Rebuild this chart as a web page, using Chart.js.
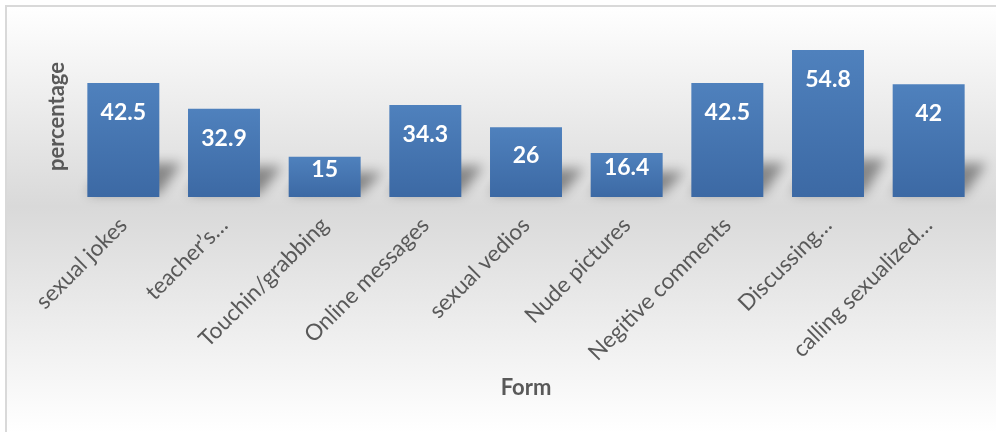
<!DOCTYPE html>
<html>
<head>
<meta charset="utf-8">
<script src="https://cdn.jsdelivr.net/npm/chart.js@4.4.0/dist/chart.umd.min.js"></script>
<style>
html,body{margin:0;padding:0;background:#fff;overflow:hidden;}
#wrap{position:absolute;left:5px;top:5px;width:989px;height:425px;border-left:2px solid #d9d9d9;border-top:2px solid #d9d9d9;
  background:linear-gradient(#ffffff 0%,#d9d9d9 47%,#ffffff 100%);}
canvas{display:block;}
</style>
</head>
<body>
<div id="wrap"><canvas id="chart" width="989" height="425"></canvas></div>
<script>
const forms = ['sexual jokes', 'teacher\u2019s\u2026', 'Touchin/grabbing', 'Online messages', 'sexual vedios',
  'Nude pictures', 'Negitive comments', 'Discussing\u2026', 'calling sexualized\u2026'];
const percentages = [42.5, 32.9, 15, 34.3, 26, 16.4, 42.5, 54.8, 42];

const GREY = '#595959';
const FONT = 'Lato';

// soft perspective shadow behind each bar
const barShadow = {
  id: 'barShadow',
  beforeDatasetsDraw(chart){
    const ctx = chart.ctx;
    chart.getDatasetMeta(0).data.forEach(bar => {
      const h = bar.base - bar.y;
      const sh = 20 + h * 0.12;
      const l = bar.x - bar.width / 2, r = bar.x + bar.width / 2;
      ctx.save();
      ctx.filter = 'blur(6px)';
      ctx.fillStyle = 'rgba(0,0,0,0.4)';
      ctx.beginPath();
      ctx.moveTo(l, bar.base - 3);
      ctx.lineTo(r, bar.base - 3);
      ctx.lineTo(r + 22, bar.base - sh);
      ctx.lineTo(l + 22, bar.base - sh);
      ctx.closePath();
      ctx.fill();
      ctx.restore();
    });
  }
};

// white value labels, inside end
const valueLabels = {
  id: 'valueLabels',
  afterDatasetsDraw(chart){
    const ctx = chart.ctx;
    const ds = chart.data.datasets[0];
    ctx.save();
    ctx.font = `bold 23px ${FONT}`;
    ctx.fillStyle = '#ffffff';
    ctx.textAlign = 'center';
    ctx.textBaseline = 'middle';
    chart.getDatasetMeta(0).data.forEach((bar, i) => {
      const h = bar.base - bar.y;
      const off = Math.min(29.5, h / 2 - 7);
      ctx.fillText(String(ds.data[i]), bar.x, bar.y + off);
    });
    ctx.restore();
  }
};

new Chart(document.getElementById('chart'), {
  type: 'bar',
  data: {
    labels: forms,
    datasets: [{
      data: percentages,
      backgroundColor: c => {
        const ch = c.chart;
        if(!ch.chartArea) return '#4675b2';
        const y = ch.scales.y;
        const top = y.getPixelForValue(c.raw), bottom = y.getPixelForValue(0);
        const g = ch.ctx.createLinearGradient(0, top, 0, bottom);
        g.addColorStop(0, '#4f81bd');
        g.addColorStop(1, '#3c69a4');
        return g;
      },
      borderWidth: 0,
      barPercentage: 0.715,
      categoryPercentage: 1
    }]
  },
  options: {
    responsive: false,
    animation: false,
    layout: { padding: { left: 33, top: 29, right: 17, bottom: 20 } },
    plugins: { legend: { display: false }, tooltip: { enabled: false } },
    scales: {
      x: {
        grid: { display: false, drawTicks: false },
        border: { display: false },
        ticks: { color: GREY, font: { family: FONT, size: 22.5 }, minRotation: 45, maxRotation: 45, autoSkip: false, padding: 15 },
        title: { display: true, text: 'Form', color: GREY, font: { family: FONT, size: 22, weight: 'bold' }, padding: { top: 4, bottom: 11 } },
        afterFit: s => { s.height = 215; }
      },
      y: {
        min: 0, max: 60,
        grid: { display: false, drawTicks: false },
        border: { display: false },
        ticks: { display: false },
        title: { display: true, text: 'percentage', color: GREY, font: { family: FONT, size: 22, weight: 'bold' }, padding: { top: 4, bottom: 5 } },
        afterFit: s => { s.width = 33; }
      }
    }
  },
  plugins: [barShadow, valueLabels]
});
</script>
</body>
</html>
